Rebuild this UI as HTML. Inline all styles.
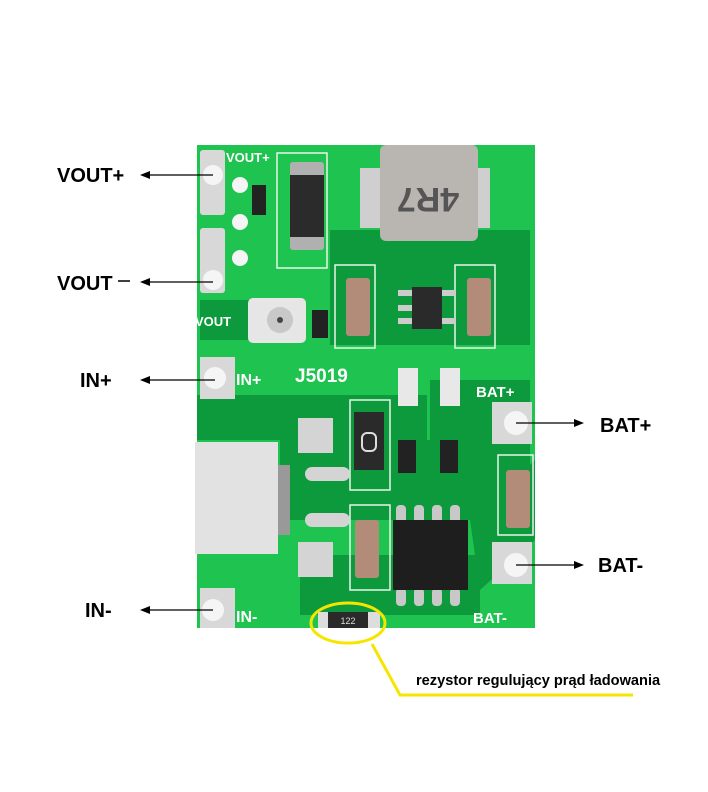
<!DOCTYPE html>
<html><head><meta charset="utf-8"><style>
html,body{margin:0;padding:0;background:#fff;}
svg{display:block}
</style></head><body>
<svg width="708" height="792" viewBox="0 0 708 792" xmlns="http://www.w3.org/2000/svg" font-family="Liberation Sans, sans-serif">
<rect x="197" y="145" width="338" height="483" fill="#1fc450"/>
<g fill="#0c9a3c">
<rect x="197" y="395" width="230" height="45"/>
<rect x="280" y="440" width="150" height="80"/>
<rect x="330" y="230" width="200" height="115"/>
<rect x="430" y="380" width="100" height="140"/>
<rect x="300" y="555" width="180" height="60"/>
<rect x="200" y="300" width="60" height="40"/>
<polygon points="470,520 535,460 535,540 480,590"/>
</g>
<g fill="none" stroke="#e8f5e8" stroke-width="1.5">
<rect x="277" y="153" width="50" height="115"/>
<rect x="335" y="265" width="40" height="83"/>
<rect x="455" y="265" width="40" height="83"/>
<rect x="350" y="400" width="40" height="90"/>
<rect x="350" y="505" width="40" height="85"/>
<rect x="498" y="455" width="35" height="80"/>
</g>
<g fill="#d8d8d8">
<rect x="200" y="150" width="25" height="65" rx="3"/>
<rect x="200" y="228" width="25" height="65" rx="3"/>
<rect x="200" y="357" width="35" height="42"/>
<rect x="200" y="588" width="35" height="40"/>
<rect x="492" y="402" width="40" height="42"/>
<rect x="492" y="542" width="40" height="42"/>
</g>
<g fill="#f5f5f5">
<circle cx="213" cy="175" r="10"/><circle cx="213" cy="280" r="10"/>
<circle cx="215" cy="378" r="11"/><circle cx="213" cy="610" r="11"/>
<circle cx="516" cy="423" r="12"/><circle cx="516" cy="565" r="12"/>
<circle cx="240" cy="185" r="8"/><circle cx="240" cy="222" r="8"/><circle cx="240" cy="258" r="8"/>
</g>
<rect x="360" y="168" width="130" height="60" fill="#cfcfcf"/>
<rect x="380" y="145" width="98" height="96" rx="6" fill="#b9b5b1"/>
<text x="428" y="212" font-size="34" font-weight="bold" fill="#555" text-anchor="middle" transform="rotate(180 428 200)">4R7</text>
<rect x="290" y="162" width="34" height="88" rx="3" fill="#b0b0b0"/>
<rect x="290" y="175" width="34" height="62" fill="#2b2b2b"/>
<g fill="#b28c78">
<rect x="346" y="278" width="24" height="58" rx="3"/>
<rect x="467" y="278" width="24" height="58" rx="3"/>
<rect x="355" y="520" width="24" height="58" rx="3"/>
<rect x="506" y="470" width="24" height="58" rx="3"/>
</g>
<rect x="412" y="287" width="30" height="42" fill="#2a2a2a"/>
<g fill="#ccc"><rect x="398" y="290" width="14" height="6"/><rect x="398" y="305" width="14" height="6"/><rect x="398" y="318" width="14" height="6"/><rect x="442" y="290" width="14" height="6"/><rect x="442" y="318" width="14" height="6"/></g>
<rect x="248" y="298" width="58" height="45" rx="5" fill="#e6e6e6"/>
<circle cx="280" cy="320" r="13" fill="#c8c8c8"/><circle cx="280" cy="320" r="3" fill="#444"/>
<rect x="312" y="310" width="16" height="28" fill="#222"/>
<rect x="252" y="185" width="14" height="30" fill="#222"/>
<g fill="#ffffff" font-weight="bold">
<text x="226" y="162" font-size="13">VOUT+</text>
<text x="195" y="326" font-size="13">VOUT</text>
<text x="236" y="385" font-size="16">IN+</text>
<text x="295" y="382" font-size="19">J5019</text>
<text x="476" y="397" font-size="15">BAT+</text>
<text x="236" y="622" font-size="16">IN-</text>
<text x="473" y="623" font-size="15">BAT-</text>
</g>
<g fill="#e8e8e8"><rect x="398" y="368" width="20" height="38"/><rect x="440" y="368" width="20" height="38"/></g>
<g fill="#222"><rect x="398" y="440" width="18" height="33"/><rect x="440" y="440" width="18" height="33"/></g>
<rect x="354" y="412" width="30" height="58" fill="#2a2a2a"/>
<rect x="362" y="433" width="14" height="18" rx="5" fill="none" stroke="#ddd" stroke-width="2"/>
<rect x="195" y="442" width="83" height="112" fill="#e2e2e2"/>
<rect x="278" y="465" width="12" height="70" fill="#999"/>
<g fill="#d4d4d4"><rect x="298" y="418" width="35" height="35"/><rect x="298" y="542" width="35" height="35"/><rect x="305" y="467" width="45" height="14" rx="7"/><rect x="305" y="513" width="45" height="14" rx="7"/></g>
<g fill="#c8c8c8"><rect x="396" y="505" width="10" height="18" rx="4"/><rect x="414" y="505" width="10" height="18" rx="4"/><rect x="432" y="505" width="10" height="18" rx="4"/><rect x="450" y="505" width="10" height="18" rx="4"/>
<rect x="396" y="588" width="10" height="18" rx="4"/><rect x="414" y="588" width="10" height="18" rx="4"/><rect x="432" y="588" width="10" height="18" rx="4"/><rect x="450" y="588" width="10" height="18" rx="4"/></g>
<rect x="393" y="520" width="75" height="70" fill="#1e1e1e"/>
<rect x="318" y="612" width="62" height="16" fill="#ddd"/>
<rect x="328" y="612" width="40" height="16" fill="#2a2a2a"/>
<text x="348" y="624" font-size="9" fill="#ddd" text-anchor="middle">122</text>
<ellipse cx="348" cy="623" rx="37" ry="20" fill="none" stroke="#f5e600" stroke-width="3"/>
<polyline points="372,644 400,695 633,695" fill="none" stroke="#f5e600" stroke-width="3"/>
<text x="416" y="685" font-size="14.6" font-weight="bold" fill="#000">rezystor regulujący prąd ładowania</text>
<g fill="#000" font-size="20" font-weight="bold">
<text x="57" y="182">VOUT+</text>
<text x="57" y="290">VOUT</text>
<text x="80" y="387">IN+</text>
<text x="85" y="617">IN-</text>
<text x="600" y="432">BAT+</text>
<text x="598" y="572">BAT-</text>
</g>
<line x1="118" y1="281" x2="130" y2="281" stroke="#000" stroke-width="1.5"/>
<g stroke="#000" stroke-width="1.2">
<line x1="145" y1="175" x2="213" y2="175"/>
<line x1="145" y1="282" x2="213" y2="282"/>
<line x1="145" y1="380" x2="215" y2="380"/>
<line x1="145" y1="610" x2="213" y2="610"/>
<line x1="516" y1="423" x2="578" y2="423"/>
<line x1="516" y1="565" x2="578" y2="565"/>
</g>
<g fill="#000">
<polygon points="140,175 150,171 150,179"/>
<polygon points="140,282 150,278 150,286"/>
<polygon points="140,380 150,376 150,384"/>
<polygon points="140,610 150,606 150,614"/>
<polygon points="584,423 574,419 574,427"/>
<polygon points="584,565 574,561 574,569"/>
</g>
</svg>
</body></html>
